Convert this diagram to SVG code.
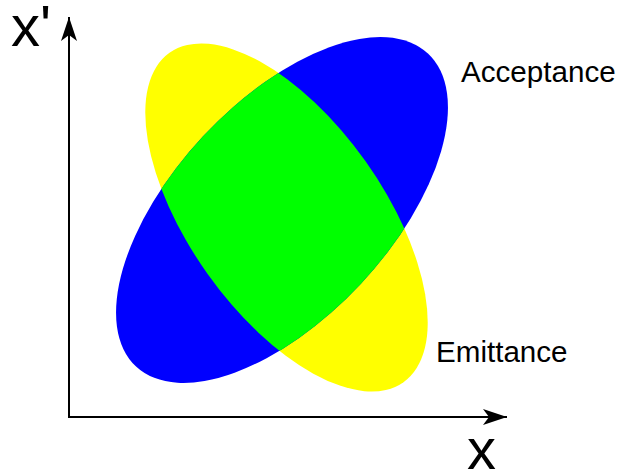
<svg xmlns="http://www.w3.org/2000/svg" width="623" height="475" viewBox="0 0 623 475">
<style>
text{font-family:"Liberation Sans",Arial,sans-serif;fill:#000}
.lbl{font-size:29.6px}
.ax{font-size:58px}
.axis{stroke:#000;stroke-width:2;fill:none}
</style>
<defs>
<marker id="ah" viewBox="0 0 24 16" refX="24" refY="8" markerWidth="24" markerHeight="16" markerUnits="userSpaceOnUse" orient="auto">
<path d="M0,0 L24,8 L0,16 L6,8 Z" fill="#000"/>
</marker>
<ellipse id="blueShape" cx="0" cy="0" rx="214" ry="108" transform="translate(282,210) rotate(-47)"/>
<clipPath id="blueclip" clipPathUnits="userSpaceOnUse">
<use href="#blueShape"/>
</clipPath>
</defs>
<g id="emittance-ellipse">
<ellipse cx="0" cy="0" rx="202" ry="97" transform="translate(286.5,217.5) rotate(54.6)" fill="#ffff00"/>
</g>
<g id="acceptance-ellipse">
<use href="#blueShape" fill="#0000ff"/>
</g>
<g id="overlap" clip-path="url(#blueclip)">
<ellipse cx="0" cy="0" rx="202" ry="97" transform="translate(286.5,217.5) rotate(54.6)" fill="#00ff00"/>
</g>
<g id="connectors">
<line class="axis" x1="69" y1="418" x2="69" y2="17" marker-end="url(#ah)"/>
<line class="axis" x1="68" y1="417" x2="507" y2="417" marker-end="url(#ah)"/>
</g>
<g id="labels">
<text class="ax" x="11" y="46">x'</text>
<text class="ax" x="467" y="469">x</text>
<text class="lbl" x="461" y="82">Acceptance</text>
<text class="lbl" x="436" y="362">Emittance</text>
</g>
</svg>
